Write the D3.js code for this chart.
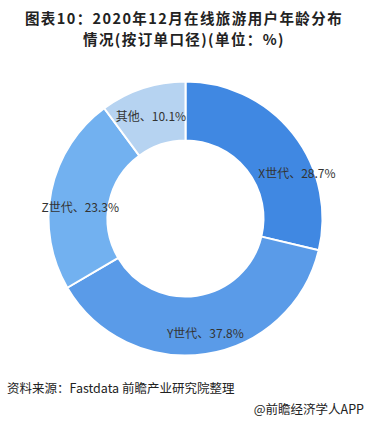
<!DOCTYPE html>
<html><head><meta charset="utf-8">
<script src="https://cdn.jsdelivr.net/npm/d3@7"></script>
<style>
html,body{margin:0;padding:0;background:#fff;}
svg{display:block;font-family:"Noto Sans CJK SC","Noto Sans",sans-serif;}
</style></head>
<body>
<svg id="c" width="368" height="422"></svg>
<script>
const categories = ["X世代", "Y世代", "Z世代", "其他"];
const values = [28.7, 37.8, 23.3, 10.1];
const colors = ["#4088e2", "#5a9be8", "#72b1f0", "#b6d3f1"];
const titleLines = ["图表10：2020年12月在线旅游用户年龄分布", "情况(按订单口径)(单位：%)"];
const sourceText = "资料来源：Fastdata 前瞻产业研究院整理";
const creditText = "@前瞻经济学人APP";

const svg = d3.select("#c");
const cx = 185.5, cy = 218.5, rOuter = 137, rInner = 78;

svg.append("g").selectAll("text").data(titleLines).join("text")
  .attr("x", 184).attr("y", (d,i) => 24 + i*21)
  .attr("text-anchor", "middle")
  .attr("font-size", 14.5).attr("font-weight", "bold").attr("fill", "#222")
  .attr("letter-spacing", 1.4)
  .text(d => d);

const data = categories.map((c,i) => ({cat:c, v:values[i], color:colors[i]}));
const pie = d3.pie().value(d => d.v).sort(null);
const arcs = pie(data);
const arc = d3.arc().innerRadius(rInner).outerRadius(rOuter);

const g = svg.append("g").attr("transform", `translate(${cx},${cy})`);
g.selectAll("path").data(arcs).join("path")
  .attr("d", arc)
  .attr("fill", d => d.data.color)
  .attr("stroke", "#fff").attr("stroke-width", 2);

// label offsets relative to arc centroids (Excel best-fit placement)
const labelShift = [[27, 21], [4, 8], [0, 10], [-1, -1]];
g.selectAll("text.lab").data(arcs).join("text")
  .attr("class", "lab")
  .attr("x", (d,i) => arc.centroid(d)[0] + labelShift[i][0])
  .attr("y", (d,i) => arc.centroid(d)[1] + labelShift[i][1])
  .attr("text-anchor", "middle").attr("dominant-baseline", "central")
  .attr("font-size", 12).attr("fill", "#333")
  .text(d => `${d.data.cat}、${d.data.v.toFixed(1)}%`);

svg.append("text").attr("x", 7).attr("y", 393)
  .attr("font-size", 12.5).attr("fill", "#222").text(sourceText);
svg.append("text").attr("x", 364).attr("y", 414).attr("text-anchor", "end")
  .attr("font-size", 12.5).attr("fill", "#222").text(creditText);
</script>
</body></html>
